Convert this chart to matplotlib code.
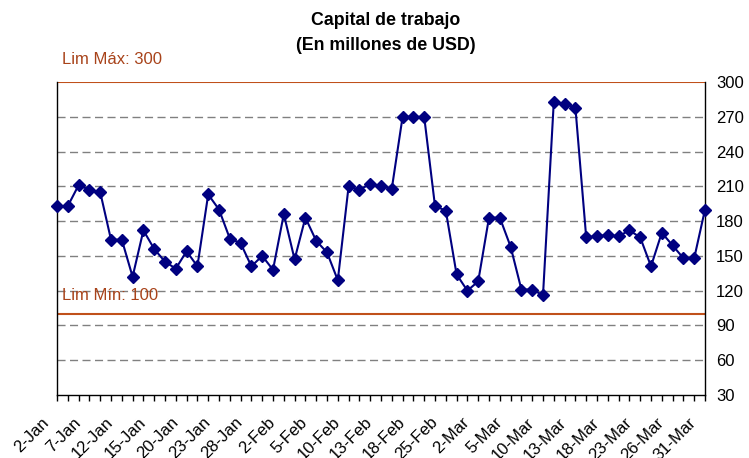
import matplotlib
matplotlib.use("Agg")
import matplotlib.pyplot as plt
import matplotlib.transforms as mtransforms
import numpy as np

plt.rcParams['font.family'] = ['Liberation Sans', 'DejaVu Sans']

values = [193, 193, 211, 207, 205, 164, 164, 132, 172, 156, 145, 139,
          154, 141, 203, 190, 165, 161, 141, 150, 138, 186, 147, 183,
          163, 153, 129, 210, 207, 212, 210, 208, 270, 270, 270, 193,
          189, 134, 120, 128, 183, 183, 158, 121, 121, 116, 283, 281,
          278, 166, 167, 168, 167, 172, 166, 141, 170, 159, 148, 148, 190]
tick_labels = ['2-Jan', '7-Jan', '12-Jan', '15-Jan', '20-Jan', '23-Jan', '28-Jan',
               '2-Feb', '5-Feb', '10-Feb', '13-Feb', '18-Feb', '25-Feb', '2-Mar',
               '5-Mar', '10-Mar', '13-Mar', '18-Mar', '23-Mar', '26-Mar', '31-Mar']
label_step = 3
lim_max = 300
lim_min = 100
y_ticks = list(range(30, 301, 30))

title = "Capital de trabajo\n(En millones de USD)"

fig = plt.figure(figsize=(7.49, 4.58), dpi=100)
ax = fig.add_axes([57/749, 63/458, 648/749, 313/458])

x = np.arange(len(values))
line_col = '#C0501A'
text_col = '#A8431A'

for yv in y_ticks:
    if yv not in (30, 300):
        ax.axhline(yv, color='#808080', lw=1.0, ls=(0, (5.8, 3.2)), zorder=1)

ax.axhline(lim_max, color=line_col, lw=1.5, zorder=2)
ax.axhline(lim_min, color=line_col, lw=1.5, zorder=2)

ax.plot(x, values, color='#000080', lw=1.5, marker='D', ms=6,
        markerfacecolor='#000080', markeredgecolor='#000080', zorder=3, clip_on=False)

ax.set_xlim(0, len(values) - 1)
ax.set_ylim(30, 300)

ax.yaxis.tick_right()
ax.set_yticks(y_ticks)
ax.tick_params(axis='y', length=0, pad=8, labelsize=12)

ax.set_xticks(x, minor=True)
ax.set_xticks(x[::label_step])
ax.set_xticklabels([])
ax.tick_params(axis='x', which='both', direction='out', length=4, width=1)

label_tr = ax.get_xaxis_transform() + mtransforms.ScaledTranslation(
    -11/100, -25/100, fig.dpi_scale_trans)
for xi, lab in zip(x[::label_step], tick_labels):
    ax.text(xi, 0, lab, transform=label_tr, rotation=45, ha='right', va='center',
            rotation_mode='anchor', fontsize=12, clip_on=False)

for s in ['left', 'right', 'bottom']:
    ax.spines[s].set_color('black')
    ax.spines[s].set_linewidth(1.0)
ax.spines['top'].set_visible(False)

fig.text(62/749, 1 - 60/458, 'Lim Máx: 300', color=text_col, fontsize=12,
         ha='left', va='center')
fig.text(62/749, 1 - 295/458, 'Lim Mín: 100', color=text_col, fontsize=12,
         ha='left', va='center')

fig.text(386/749, 1 - 33/458, title, ha='center', va='center', fontsize=12.8,
         fontweight='bold', linespacing=1.6)

fig.savefig('out.png', dpi=100)
